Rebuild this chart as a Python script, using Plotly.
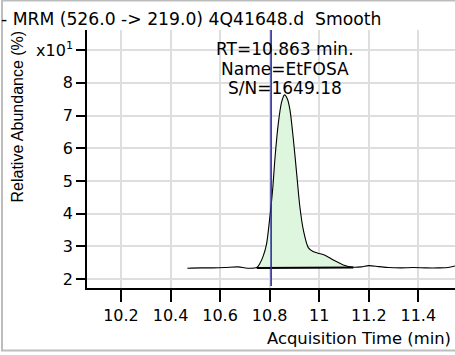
import plotly.graph_objects as go

# ---- data ----
time_min = [10.468, 10.52, 10.57, 10.62, 10.673, 10.71, 10.748, 10.761, 10.774, 10.787,
            10.801, 10.812, 10.822, 10.835, 10.848, 10.860, 10.872, 10.882, 10.896, 10.909,
            10.922, 10.936, 10.956, 10.975, 10.995, 11.023, 11.057, 11.097, 11.138, 11.17,
            11.20, 11.24, 11.28, 11.33, 11.38, 11.43, 11.48, 11.52, 11.548]
abundance_x10 = [2.33, 2.34, 2.34, 2.35, 2.37, 2.33, 2.35, 2.48, 2.70, 3.05,
                 3.90, 4.72, 5.74, 6.76, 7.40, 7.63, 7.50, 7.17, 6.25, 5.23,
                 4.21, 3.50, 2.96, 2.84, 2.79, 2.73, 2.58, 2.43, 2.36, 2.37,
                 2.41, 2.38, 2.35, 2.34, 2.35, 2.34, 2.34, 2.35, 2.40]
peak_start, peak_end = 6, 28          # indices of integrated region
baseline_x = [10.748, 11.138]
baseline_y = [2.34, 2.35]
rt_marker = 10.806
peak_rt = 10.863
peak_labels = ["RT=10.863 min.", "Name=EtFOSA", "S/N=1649.18"]
label_y = [9.03, 8.43, 7.85]

x_ticks = [10.2, 10.4, 10.6, 10.8, 11.0, 11.2, 11.4]
x_ticktext = ["10.2", "10.4", "10.6", "10.8", "11", "11.2", "11.4"]
y_ticks = [2, 3, 4, 5, 6, 7, 8, 9]
y_ticktext = ["2", "3", "4", "5", "6", "7", "8", "x10<sup>1</sup>"]
x_range = [10.063, 11.548]
y_range = [1.725, 9.615]

title_text = "- MRM (526.0 -> 219.0) 4Q41648.d  Smooth"
x_title = "Acquisition Time (min)"
y_title = "Relative Abundance (%)"

FONT = "DejaVu Sans"

fig = go.Figure()

# filled peak area
px = time_min[peak_start:peak_end + 1]
py = abundance_x10[peak_start:peak_end + 1]
fig.add_trace(go.Scatter(
    x=px + [baseline_x[1], baseline_x[0]],
    y=py + [baseline_y[1], baseline_y[0]],
    fill="toself", fillcolor="#ddf6dd",
    line=dict(width=0, shape="linear"), mode="lines", hoverinfo="skip"))

# chromatogram
fig.add_trace(go.Scatter(
    x=time_min, y=abundance_x10, mode="lines",
    line=dict(color="black", width=1.1, shape="spline", smoothing=0.8)))

# integration baseline
fig.add_trace(go.Scatter(
    x=baseline_x, y=baseline_y, mode="lines",
    line=dict(color="black", width=2)))

# RT marker line
fig.add_shape(type="line", xref="x", yref="paper", x0=rt_marker, x1=rt_marker,
              y0=0.008, y1=1, line=dict(color="#2e2e9e", width=1.6))

for txt, yy in zip(peak_labels, label_y):
    fig.add_annotation(x=peak_rt, y=yy, xref="x", yref="y", text=txt,
                       showarrow=False, xanchor="center", yanchor="middle",
                       font=dict(family=FONT, size=17, color="black"))

L, T, W, H = 87, 30, 368, 258


def pxx(p):
    return (p - L) / W


def pxy(p):
    return (T + H - p) / H


fig.add_annotation(x=pxx(-1), y=pxy(19), xref="paper", yref="paper", text=title_text,
                   showarrow=False, xanchor="left", yanchor="middle",
                   font=dict(family=FONT, size=17.2, color="black"))
fig.add_annotation(x=pxx(17), y=pxy(116.5), xref="paper", yref="paper", text=y_title,
                   showarrow=False, xanchor="center", yanchor="middle", textangle=-90,
                   font=dict(family="Liberation Sans", size=16, color="black"))
fig.add_annotation(x=pxx(453), y=pxy(338), xref="paper", yref="paper", text=x_title,
                   showarrow=False, xanchor="right", yanchor="middle",
                   font=dict(family=FONT, size=16.4, color="black"))

# outer frame
fig.add_shape(type="rect", xref="paper", yref="paper",
              x0=pxx(2), x1=pxx(470), y0=pxy(350.5), y1=pxy(0.5),
              line=dict(color="#bdbdbd", width=2), layer="below")

fig.update_layout(
    width=455, height=355,
    margin=dict(l=L, r=455 - L - W, t=T, b=355 - T - H, pad=0),
    paper_bgcolor="white", plot_bgcolor="white",
    showlegend=False,
    font=dict(family=FONT, size=16, color="black"),
)
fig.update_xaxes(range=x_range, tickvals=x_ticks, ticktext=x_ticktext,
                 showgrid=True, gridcolor="#dedede", gridwidth=1.5,
                 showline=True, linecolor="black", linewidth=1.5,
                 ticks="outside", ticklen=12, tickwidth=1.5, tickcolor="black",
                 zeroline=False, tickfont=dict(family=FONT, size=16))
fig.update_yaxes(range=y_range, tickvals=y_ticks, ticktext=y_ticktext,
                 showgrid=True, gridcolor="#dedede", gridwidth=1.5,
                 showline=True, linecolor="black", linewidth=1.5,
                 ticks="outside", ticklen=9, tickwidth=1.5, tickcolor="black",
                 zeroline=False, tickfont=dict(family=FONT, size=16))

fig.write_html("out.html",
               config={"displayModeBar": False},
               post_script="document.body.style.margin='0';document.body.style.overflow='hidden';")
